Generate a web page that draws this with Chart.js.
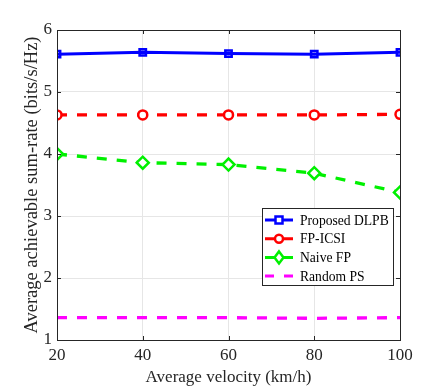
<!DOCTYPE html>
<html>
<head>
<meta charset="utf-8">
<script src="https://cdn.jsdelivr.net/npm/chart.js@4"></script>
<style>
  html, body { margin: 0; padding: 0; background: #fff; }
  #wrap { width: 443px; height: 388px; }
</style>
</head>
<body>
<div id="wrap"><canvas id="chart" width="443" height="388"></canvas></div>
<script>
// Data
const velocities = [20, 40, 60, 80, 100];
const proposedDLPB = [5.61, 5.64, 5.62, 5.61, 5.64];
const fpICSI = [4.63, 4.63, 4.63, 4.63, 4.64];
const naiveFP = [4.00, 3.86, 3.83, 3.69, 3.38];
const randomPS = [1.36, 1.36, 1.36, 1.35, 1.36];
const yTicks = [1, 2, 3, 4, 5, 6];
const xTicks = [20, 40, 60, 80, 100];

const FONT = '"Liberation Serif", "Times New Roman", serif';

function toPoints(values) {
  return velocities.map((v, i) => ({ x: v, y: values[i] }));
}

// Box frame with inward ticks, MATLAB style
const framePlugin = {
  id: 'frame',
  afterDatasetsDraw(chart) {
    const { ctx, chartArea: a, scales } = chart;
    ctx.save();
    ctx.strokeStyle = '#262626';
    ctx.lineWidth = 1;
    ctx.strokeRect(a.left + 0.5, a.top + 0.5, a.right - a.left, a.bottom - a.top);
    ctx.beginPath();
    xTicks.forEach(t => {
      const x = Math.round(scales.x.getPixelForValue(t)) + 0.5;
      ctx.moveTo(x, a.bottom); ctx.lineTo(x, a.bottom - 4);
      ctx.moveTo(x, a.top); ctx.lineTo(x, a.top + 4);
    });
    yTicks.forEach(t => {
      const y = Math.round(scales.y.getPixelForValue(t)) + 0.5;
      ctx.moveTo(a.left, y); ctx.lineTo(a.left + 4, y);
      ctx.moveTo(a.right, y); ctx.lineTo(a.right - 4, y);
    });
    ctx.stroke();
    ctx.restore();
  }
};

// Legend drawn inside the plot area
const boxLegend = {
  id: 'boxLegend',
  afterDraw(chart) {
    const { ctx, chartArea: a } = chart;
    const left = a.left + 205, top = a.top + 178, w = 131, h = 77;
    ctx.save();
    ctx.fillStyle = '#fff';
    ctx.fillRect(left, top, w, h);
    ctx.strokeStyle = '#262626';
    ctx.lineWidth = 1;
    ctx.strokeRect(left + 0.5, top + 0.5, w, h);
    ctx.font = '13.6px ' + FONT;
    ctx.textBaseline = 'middle';
    chart.data.datasets.forEach((ds, i) => {
      const y = top + 12 + i * 18.7;
      const x0 = left + 3, x1 = left + 31;
      ctx.strokeStyle = ds.borderColor;
      ctx.lineWidth = 3;
      ctx.setLineDash(ds.borderDash ? [9, 10] : []);
      ctx.beginPath();
      ctx.moveTo(x0, y); ctx.lineTo(x1, y);
      ctx.stroke();
      ctx.setLineDash([]);
      const cx = (x0 + x1) / 2;
      ctx.lineWidth = 2.5;
      ctx.fillStyle = '#fff';
      if (ds.pointStyle === 'rect') {
        ctx.fillRect(cx - 3.5, y - 3.5, 7, 7);
        ctx.strokeRect(cx - 3.5, y - 3.5, 7, 7);
      } else if (ds.pointStyle === 'circle') {
        ctx.beginPath(); ctx.arc(cx, y, 4, 0, Math.PI * 2); ctx.fill(); ctx.stroke();
      } else if (ds.pointStyle === 'rectRot') {
        ctx.beginPath();
        ctx.moveTo(cx, y - 6); ctx.lineTo(cx + 4.5, y); ctx.lineTo(cx, y + 6); ctx.lineTo(cx - 4.5, y);
        ctx.closePath(); ctx.fill(); ctx.stroke();
      }
      ctx.fillStyle = '#000';
      ctx.fillText(ds.label, left + 38, y + 1);
    });
    ctx.restore();
  }
};

const ctx = document.getElementById('chart').getContext('2d');
const chart = new Chart(ctx, {
  type: 'line',
  data: {
    datasets: [
      {
        label: 'Proposed DLPB',
        data: toPoints(proposedDLPB),
        borderColor: '#0000ff',
        backgroundColor: 'rgba(0,0,255,0.15)',
        borderWidth: 3,
        pointStyle: 'rect',
        pointRadius: 4.5,
        pointBorderWidth: 2.5,
      },
      {
        label: 'FP-ICSI',
        data: toPoints(fpICSI),
        borderColor: '#ff0000',
        backgroundColor: '#ffffff',
        borderWidth: 3.3,
        borderDash: [10, 10],
        pointStyle: 'circle',
        pointRadius: 4.5,
        pointBorderWidth: 2.5,
      },
      {
        label: 'Naive FP',
        data: toPoints(naiveFP),
        borderColor: '#00f000',
        backgroundColor: '#ffffff',
        borderWidth: 3.3,
        borderDash: [10, 10],
        pointStyle: 'rectRot',
        pointRadius: 6,
        pointBorderWidth: 2.5,
      },
      {
        label: 'Random PS',
        data: toPoints(randomPS),
        borderColor: '#ff00ff',
        borderWidth: 3.3,
        borderDash: [10, 10],
        pointRadius: 0,
      },
    ],
  },
  options: {
    responsive: false,
    animation: false,
    layout: { padding: { top: 30, right: 43, left: 0, bottom: 0 } },
    plugins: { legend: { display: false }, tooltip: { enabled: false } },
    scales: {
      x: {
        type: 'linear',
        min: 20,
        max: 100,
        afterBuildTicks(scale) { scale.ticks = xTicks.map(v => ({ value: v })); },
        afterFit(scale) { scale.height = 48; },
        grid: { color: '#e6e6e6', drawTicks: false },
        border: { display: false },
        ticks: { color: '#262626', font: { family: FONT, size: 17 }, padding: 5, maxRotation: 0 },
        title: {
          display: true,
          text: 'Average velocity (km/h)',
          color: '#262626',
          font: { family: FONT, size: 17 },
          padding: { top: 0, bottom: 0 },
        },
      },
      y: {
        min: 1,
        max: 6,
        afterBuildTicks(scale) { scale.ticks = yTicks.map(v => ({ value: v })); },
        afterFit(scale) { scale.width = 57; },
        grid: { color: '#e6e6e6', drawTicks: false },
        border: { display: false },
        ticks: { color: '#262626', font: { family: FONT, size: 17 }, padding: 5 },
        title: {
          display: true,
          text: 'Average achievable sum-rate (bits/s/Hz)',
          color: '#262626',
          font: { family: FONT, size: 18.5 },
          padding: { top: 21, bottom: 2 },
        },
      },
    },
  },
  plugins: [framePlugin, boxLegend],
});
</script>
</body>
</html>
